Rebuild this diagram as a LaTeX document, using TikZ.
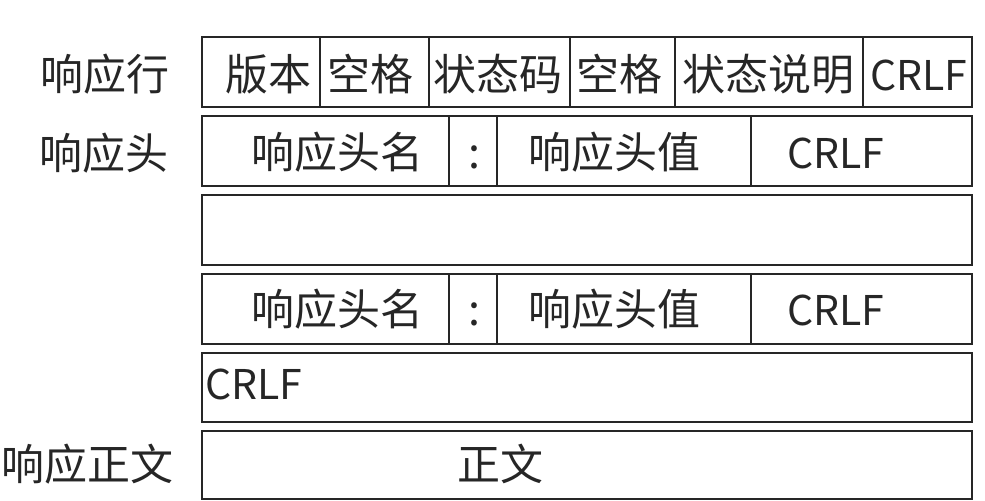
\documentclass[tikz,border=0pt]{standalone}
\usepackage{fontspec}
\setmainfont{Noto Sans CJK SC}
\usepackage{tikz}
\tikzset{
  frame/.style={draw=black!85, line width=1pt},
  txt/.style={inner sep=0pt, anchor=base, text=black!85, font=\fontsize{21.5}{25}\selectfont},
  lat/.style={txt, font=\fontsize{20.5}{25}\selectfont},
}

\begin{document}
\begin{tikzpicture}[x=0.5pt, y=-0.5pt]
        \useasboundingbox (0,0) rectangle (985,501);

        % the six row boxes
        \foreach \t/\b in {37/107, 116/186, 195/265, 274/344, 353/422, 431/499}
          \path[frame] (202,\t) rectangle (972,\b);
        \foreach \x in {320,429,570,675,863}
          \path[frame] (\x,37) -- (\x,107);
        \foreach \t/\b in {116/186, 274/344}
          \foreach \x in {449,497,751}
            \path[frame] (\x,\t) -- (\x,\b);

        % status line
        \node[txt] (ver) at (268,91) {版本};
        \node[txt] (spa) at (370,91) {空格};
        \node[txt] (code) at (498,91) {状态码};
        \node[txt] (spb) at (619,91) {空格};
        \node[txt] (reason) at (768,91) {状态说明};
        \node[lat] (crlfa) at (919,91) {CRLF};

        % header lines
        \node[txt] (namea) at (337,169) {响应头名};
        \node[txt] (cola) at (474,169) {:};
        \node[txt] (vala) at (614,169) {响应头值};
        \node[lat] (crlfb) at (836,169) {CRLF};
        \node[txt] (nameb) at (337,326) {响应头名};
        \node[txt] (colb) at (474,326) {:};
        \node[txt] (valb) at (614,326) {响应头值};
        \node[lat] (crlfc) at (836,326) {CRLF};

        \node[lat, anchor=base west] (crlfd) at (205,400) {CRLF};
        \node[txt] (body) at (500,481) {正文};

        % row labels
        \node[txt] (lblline) at (105,91) {响应行};
        \node[txt] (lblhead) at (104,170) {响应头};
        \node[txt] (lblbody) at (88,481) {响应正文};
\end{tikzpicture}
\end{document}
